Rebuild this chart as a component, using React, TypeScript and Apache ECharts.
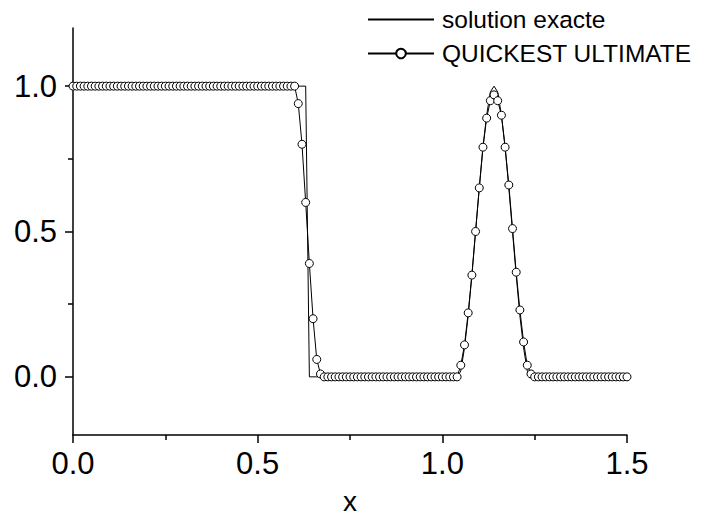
import React, { useEffect, useRef } from "react";
import * as echarts from "echarts";

// abscissas: uniform grid 0.00 .. 1.50, step 0.01 (151 nodes)
const xGrid: number[] = Array.from({ length: 151 }, (_, i) => Math.round(i) / 100);

// exact solution sampled on the grid
const exactSolution: number[] = [
  // 0.00 - 0.63
  1, 1, 1, 1, 1, 1, 1, 1, 1, 1,
  1, 1, 1, 1, 1, 1, 1, 1, 1, 1,
  1, 1, 1, 1, 1, 1, 1, 1, 1, 1,
  1, 1, 1, 1, 1, 1, 1, 1, 1, 1,
  1, 1, 1, 1, 1, 1, 1, 1, 1, 1,
  1, 1, 1, 1, 1, 1, 1, 1, 1, 1,
  1, 1, 1, 1,
  // 0.64 - 1.04
  0, 0, 0, 0, 0, 0,
  0, 0, 0, 0, 0, 0, 0, 0, 0, 0,
  0, 0, 0, 0, 0, 0, 0, 0, 0, 0,
  0, 0, 0, 0, 0, 0, 0, 0, 0, 0,
  0, 0, 0, 0, 0,
  // 1.05 - 1.23
  0.02, 0.10, 0.21, 0.35, 0.50, 0.65, 0.79, 0.90, 0.98, 1.00,
  0.98, 0.90, 0.79, 0.65, 0.50, 0.35, 0.21, 0.10, 0.02,
  // 1.24 - 1.50
  0, 0, 0, 0, 0, 0,
  0, 0, 0, 0, 0, 0, 0, 0, 0, 0,
  0, 0, 0, 0, 0, 0, 0, 0, 0, 0,
  0,
];

// QUICKEST ULTIMATE numerical solution
const quickestUltimate: number[] = [
  // 0.00 - 0.60
  1, 1, 1, 1, 1, 1, 1, 1, 1, 1,
  1, 1, 1, 1, 1, 1, 1, 1, 1, 1,
  1, 1, 1, 1, 1, 1, 1, 1, 1, 1,
  1, 1, 1, 1, 1, 1, 1, 1, 1, 1,
  1, 1, 1, 1, 1, 1, 1, 1, 1, 1,
  1, 1, 1, 1, 1, 1, 1, 1, 1, 1,
  1,
  // 0.61 - 0.67
  0.94, 0.80, 0.60, 0.39, 0.20, 0.06, 0.01,
  // 0.68 - 1.04
  0, 0,
  0, 0, 0, 0, 0, 0, 0, 0, 0, 0,
  0, 0, 0, 0, 0, 0, 0, 0, 0, 0,
  0, 0, 0, 0, 0, 0, 0, 0, 0, 0,
  0, 0, 0, 0, 0,
  // 1.05 - 1.24
  0.04, 0.11, 0.22, 0.35, 0.50, 0.65, 0.79, 0.89, 0.95, 0.97,
  0.95, 0.90, 0.79, 0.66, 0.51, 0.36, 0.23, 0.12, 0.04, 0.01,
  // 1.25 - 1.50
  0, 0, 0, 0, 0,
  0, 0, 0, 0, 0, 0, 0, 0, 0, 0,
  0, 0, 0, 0, 0, 0, 0, 0, 0, 0,
  0,
];

const seriesNames = ["solution exacte", "QUICKEST ULTIMATE"];
const yMajorTicks = [0, 0.5, 1.0];
const yMinorTicks = [0.25, 0.75];

const FONT = "'Liberation Sans', Arial, Helvetica, sans-serif";

export default function App() {
  const ref = useRef<HTMLDivElement>(null);

  useEffect(() => {
    if (!ref.current) return;
    const chart = echarts.init(ref.current, undefined, { renderer: "svg" });
    const pair = (ys: number[]) => xGrid.map((x, i) => [x, ys[i]]);

    chart.setOption({
      animation: false,
      backgroundColor: "#ffffff",
      textStyle: { fontFamily: FONT, color: "#000" },
      grid: { left: 73, right: 82, top: 28, bottom: 82, containLabel: false, outerBoundsMode: "none" },
      legend: {
        orient: "vertical",
        left: 362,
        top: 2,
        padding: 5,
        itemWidth: 66,
        itemHeight: 12,
        itemGap: 9,
        data: [
          { name: seriesNames[0], itemStyle: { opacity: 0 } },
          { name: seriesNames[1] },
        ],
        textStyle: { fontSize: 24.5, fontFamily: FONT, color: "#000", padding: [0, 0, 0, 3] },
      },
      xAxis: {
        type: "value",
        min: 0,
        max: 1.5,
        interval: 0.5,
        name: "x",
        nameLocation: "middle",
        nameGap: 54,
        nameTextStyle: { fontSize: 28, lineHeight: 24, fontFamily: FONT, color: "#000" },
        axisLine: { show: true, onZero: false, lineStyle: { color: "#000", width: 1.5 } },
        axisTick: { show: true, length: 8, lineStyle: { color: "#000", width: 1.5 } },
        minorTick: { show: true, splitNumber: 2, length: 5, lineStyle: { color: "#000", width: 1.5 } },
        axisLabel: {
          fontSize: 31,
          fontFamily: FONT,
          color: "#000",
          margin: 13,
          formatter: (v: number) => v.toFixed(1),
        },
        splitLine: { show: false },
        minorSplitLine: { show: false },
      },
      yAxis: [
        {
          type: "value",
          min: -0.2,
          max: 1.2,
          position: "left",
          axisLine: { show: true, onZero: false, lineStyle: { color: "#000", width: 1.5 } },
          axisTick: { show: true, length: 8, customValues: yMajorTicks, lineStyle: { color: "#000", width: 1.5 } },
          axisLabel: {
            fontSize: 31,
            fontFamily: FONT,
            color: "#000",
            margin: 16,
            customValues: yMajorTicks,
            formatter: (v: number) => v.toFixed(1),
          },
          splitLine: { show: false },
        },
        {
          type: "value",
          min: -0.2,
          max: 1.2,
          position: "left",
          axisLine: { show: false, onZero: false },
          axisTick: { show: true, length: 5, customValues: yMinorTicks, lineStyle: { color: "#000", width: 1.5 } },
          axisLabel: { show: false },
          splitLine: { show: false },
        },
      ],
      series: [
        {
          name: seriesNames[0],
          type: "line",
          data: pair(exactSolution),
          symbol: "none",
          lineStyle: { color: "#000", width: 1 },
          itemStyle: { color: "#000" },
          z: 2,
        },
        {
          name: seriesNames[1],
          type: "line",
          data: pair(quickestUltimate),
          symbol: "circle",
          symbolSize: 8,
          showAllSymbol: true,
          lineStyle: { color: "#000", width: 1 },
          itemStyle: { color: "#fff", borderColor: "#000", borderWidth: 1 },
          z: 3,
        },
      ],
    });
    return () => chart.dispose();
  }, []);

  return (
    <div
      ref={ref}
      style={{ position: "fixed", left: 0, top: 0, width: 709, height: 517, background: "#fff" }}
    />
  );
}
